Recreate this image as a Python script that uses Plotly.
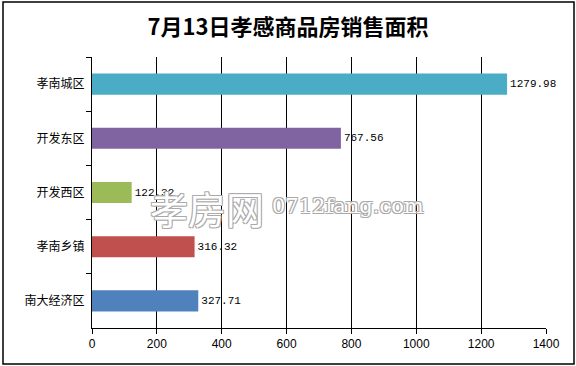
import plotly.graph_objects as go

categories = ["孝南城区", "开发东区", "开发西区", "孝南乡镇", "南大经济区"]
values = [1279.98, 767.56, 122.32, 316.32, 327.71]
colors = ["#4BACC6", "#8064A2", "#9BBB59", "#C0504D", "#4F81BD"]
x_ticks = [0, 200, 400, 600, 800, 1000, 1200, 1400]
title = "7月13日孝感商品房销售面积"

W, H = 576, 366
L, R, T, B = 92, 30, 57, 38
pw, ph = W - L - R, H - T - B

def px_x(p):
    return (p - L) / pw

def px_y(p):
    return (H - B - p) / ph

fig = go.Figure()
fig.add_trace(go.Bar(
    x=values, y=categories, orientation="h",
    marker=dict(color=colors, line=dict(width=0)),
    width=0.39,
    text=[f"{v:.2f}" for v in values],
    textposition="outside",
    textfont=dict(family="Liberation Mono, DejaVu Sans Mono, monospace", size=11, color="#000"),
    cliponaxis=False,
    hoverinfo="x+y",
))

fig.update_layout(
    width=W, height=H,
    margin=dict(l=L, r=R, t=T, b=B, autoexpand=False),
    paper_bgcolor="white", plot_bgcolor="white",
    showlegend=False,
    title=dict(text="<b>" + title + "</b>", x=0.5, xref="container", xanchor="center",
               y=1 - 27 / H, yref="container", yanchor="middle",
               font=dict(family="Noto Sans CJK SC, Noto Sans, sans-serif", size=22, color="#000")),
    font=dict(family="Noto Sans CJK SC, sans-serif", size=12, color="#000"),
    xaxis=dict(range=[0, 1400], tickvals=x_ticks, ticktext=[str(t) for t in x_ticks],
               showgrid=True, gridcolor="#000", gridwidth=1,
               showline=True, linecolor="#000", linewidth=1,
               ticks="outside", ticklen=5, tickcolor="#000",
               zeroline=False, fixedrange=True, automargin=False,
               tickfont=dict(family="Liberation Sans, DejaVu Sans, sans-serif", size=12)),
    yaxis=dict(categoryorder="array", categoryarray=categories, autorange="reversed",
               showline=True, linecolor="#000", linewidth=1,
               ticks="outside", ticklen=5, tickcolor="#000", tickson="boundaries",
               showgrid=False, fixedrange=True, ticklabelstandoff=4, automargin=False,
               tickfont=dict(family="Noto Sans CJK SC, sans-serif", size=12)),
)

# outer chart border
fig.add_shape(type="rect", xref="paper", yref="paper",
              x0=px_x(3), x1=px_x(574), y0=px_y(364), y1=px_y(2),
              line=dict(color="#000", width=1.5), fillcolor="rgba(0,0,0,0)", layer="above")

# watermark
outline = "1px 1px 0 #aaa, -1px -1px 0 #aaa, 1px -1px 0 #aaa, -1px 1px 0 #aaa"
fig.add_annotation(text="孝房网", xref="paper", yref="paper",
                   x=px_x(266), y=px_y(207), xanchor="right", showarrow=False,
                   font=dict(family="Noto Sans CJK SC, sans-serif", size=38, color="white",
                             shadow=outline))
fig.add_annotation(text="0712fang.com", xref="paper", yref="paper",
                   x=px_x(270), y=px_y(206), xanchor="left", showarrow=False,
                   font=dict(family="DejaVu Serif, serif", size=21, color="white",
                             shadow=outline))

fig.write_html("out.html", config={"displayModeBar": False},
               post_script="document.body.style.margin='0';")
